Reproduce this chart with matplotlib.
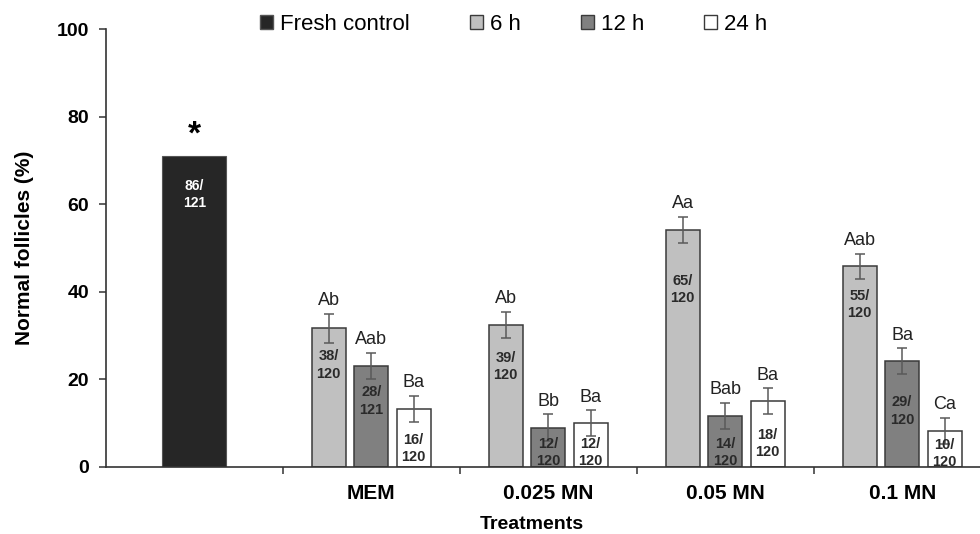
import matplotlib
matplotlib.use("Agg")
import matplotlib.pyplot as plt
from matplotlib.patches import Patch

plt.rcParams["font.family"] = ["Liberation Sans", "DejaVu Sans"]

# Data
treatments = ["MEM", "0.025 MN", "0.05 MN", "0.1 MN"]
series_names = ["6 h", "12 h", "24 h"]

fresh_value = 71.1
fresh_frac = "86/\n121"

vals_6h = [31.7, 32.5, 54.2, 45.8]
vals_12h = [23.1, 9.0, 11.7, 24.2]
vals_24h = [13.3, 10.0, 15.0, 8.3]

err_6h = [3.3, 3.0, 3.0, 2.9]
err_12h = [3.0, 3.0, 3.0, 3.0]
err_24h = [3.0, 3.0, 3.0, 3.0]

letters_6h = ["Ab", "Ab", "Aa", "Aab"]
letters_12h = ["Aab", "Bb", "Bab", "Ba"]
letters_24h = ["Ba", "Ba", "Ba", "Ca"]

frac_6h = ["38/\n120", "39/\n120", "65/\n120", "55/\n120"]
frac_12h = ["28/\n121", "12/\n120", "14/\n120", "29/\n120"]
frac_24h = ["16/\n120", "12/\n120", "18/\n120", "10/\n120"]

# where the n/N labels sit inside the bars (as placed in the original)
fresh_frac_y = 62.2
frac_y_6h = [23.3, 22.9, 40.6, 37.1]
frac_y_12h = [15.1, 3.3, 3.3, 12.8]
frac_y_24h = [4.3, 3.3, 5.4, 3.1]

colors = ["#c0c0c0", "#808080", "#ffffff"]
fresh_color = "#262626"
edge = "#3a3a3a"

fig = plt.figure(figsize=(9.8, 5.34), dpi=100)
ax = fig.add_axes([0.108, 0.1255, 0.892, 0.82])

# fresh control
ax.bar(0, fresh_value, width=0.36, color=fresh_color, edgecolor="#555555", linewidth=0.8)
ax.text(0, fresh_frac_y, fresh_frac, ha="center", va="center", color="white",
        fontsize=10, fontweight="bold", linespacing=1.3)
ax.text(0, fresh_value + 4.6, "*", ha="center", va="center", fontsize=24, fontweight="bold")

offsets = [-0.24, 0.0, 0.24]
all_vals = [vals_6h, vals_12h, vals_24h]
all_errs = [err_6h, err_12h, err_24h]
all_letters = [letters_6h, letters_12h, letters_24h]
all_fracs = [frac_6h, frac_12h, frac_24h]
all_frac_y = [frac_y_6h, frac_y_12h, frac_y_24h]

for k in range(3):
    xs = [i + 1 + offsets[k] for i in range(len(treatments))]
    ax.bar(xs, all_vals[k], width=0.192, color=colors[k], edgecolor=edge, linewidth=1.1,
           yerr=all_errs[k], capsize=3.5,
           error_kw=dict(ecolor="#5a5a5a", elinewidth=1.1, capthick=1.1))
    for x, v, e, lab, fr, fy in zip(xs, all_vals[k], all_errs[k], all_letters[k],
                                    all_fracs[k], all_frac_y[k]):
        ax.text(x, v + e + 1.0, lab, ha="center", va="bottom", fontsize=13, color="#222222")
        ax.text(x, fy, fr, ha="center", va="center", fontsize=10.5, fontweight="bold",
                color="#2a2a2a", linespacing=1.3)

ax.set_xlim(-0.5, 4.44)
ax.set_ylim(0, 100)
ax.set_yticks([0, 20, 40, 60, 80, 100])
ax.set_yticklabels(["0", "20", "40", "60", "80", "100"], fontsize=14, fontweight="bold")
ax.set_xticks([0.5, 1.5, 2.5, 3.5])
ax.set_xticklabels([])
ax.set_xticks([1, 2, 3, 4], minor=True)
ax.set_xticklabels(treatments, minor=True, fontsize=15, fontweight="bold")
ax.tick_params(axis="x", which="minor", length=0, pad=12)
ax.tick_params(axis="x", which="major", length=5, width=1.1, color="#333333")
ax.tick_params(axis="y", length=5, width=1.1, color="#333333", pad=7)

for s in ["top", "right"]:
    ax.spines[s].set_visible(False)
for s in ["left", "bottom"]:
    ax.spines[s].set_color("#333333")
    ax.spines[s].set_linewidth(1.2)

ax.set_xlabel("Treatments", fontsize=14, fontweight="bold")
ax.xaxis.set_label_coords(0.487, -0.113)
ax.set_ylabel("Normal follicles (%)", fontsize=15, fontweight="bold")
ax.yaxis.set_label_coords(-0.082, 0.5)

handles = [Patch(facecolor=fresh_color, edgecolor="#555555", label="Fresh control")]
for c, n in zip(colors, series_names):
    handles.append(Patch(facecolor=c, edgecolor=edge, label=n))
fig.legend(handles=handles, loc="center", bbox_to_anchor=(0.524, 0.955), ncol=4,
           frameon=False, fontsize=16, handlelength=0.6, handleheight=0.6,
           handletextpad=0.3, columnspacing=2.7)

plt.savefig("out.png", dpi=100)
